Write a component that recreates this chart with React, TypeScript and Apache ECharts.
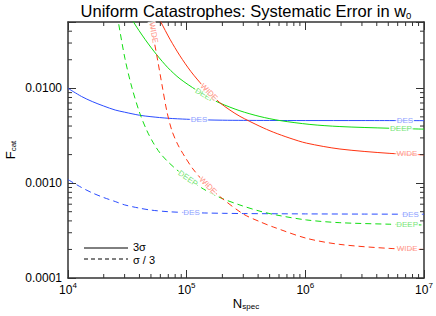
import React, { useEffect, useRef } from 'react';
import * as echarts from 'echarts';

const FONT = '"Liberation Sans", Arial, Helvetica, sans-serif';
const AXIS = '#333';
const BLUE = '#2a4cff';
const GREEN = '#11dd11';
const RED = '#ff3311';
const BLUE_L = '#6f88ff';
const GREEN_L = '#55dd55';
const RED_L = '#ff7766';

const xMin = 1e4;
const xMax = 1e7;
const yMin = 1e-4;
const yMax = 0.05;

const yTickLabels = ['0.0001', '0.0010', '0.0100'];

// DES, solid (3 sigma)
const desSolidN = [1e4, 1.3e4, 1.6e4, 2e4, 2.5e4, 3e4, 4e4, 5e4, 7e4, 1e5, 1.5e5, 2e5, 3e5, 5e5, 1e6, 3e6, 1e7];
const desSolidF = [0.0100, 0.0082, 0.00725, 0.0065, 0.0059, 0.0056, 0.0052, 0.00502, 0.00483, 0.00472, 0.00464, 0.00461, 0.00459, 0.00458, 0.00457, 0.00457, 0.00456];

// DEEP, solid
const deepSolidN = [2.964e4, 3.549e4, 4.453e4, 5.588e4, 6.957e4, 8.781e4, 1.2142e5, 1.5114e5, 1.908e5, 2.812e5, 4.145e5, 6.109e5, 1.0934e6, 1.956e6, 5.16e6, 1e7];
const deepSolidF = [0.0762, 0.0504, 0.0329, 0.0226, 0.01646, 0.0126, 0.00953, 0.00807, 0.00698, 0.00579, 0.00504, 0.00457, 0.00416, 0.00395, 0.00379, 0.00371];

// WIDE, solid
const wideSolidN = [5.102e4, 6.039e4, 7.234e4, 8.781e4, 1.0869e5, 1.3799e5, 1.6334e5, 1.908e5, 2.3166e5, 2.812e5, 4.145e5, 5.365e5, 7.419e5, 1.0256e6, 1.956e6, 5.16e6, 1e7];
const wideSolidF = [0.0762, 0.0504, 0.0329, 0.0220, 0.0150, 0.0105, 0.00844, 0.00703, 0.00589, 0.00506, 0.00397, 0.00345, 0.00298, 0.00264, 0.00229, 0.00206, 0.00199];

// DES, dashed (sigma / 3)
const desDashN = [1e4, 1.3e4, 1.6e4, 2e4, 2.5e4, 3e4, 4e4, 5e4, 7e4, 1e5, 1.5e5, 2e5, 3e5, 5e5, 1e6, 3e6, 1e7];
const desDashF = [0.00109, 0.00090, 0.00079, 0.000705, 0.00064, 0.00059, 0.000545, 0.00052, 0.0005, 0.00049, 0.000484, 0.000481, 0.000478, 0.000476, 0.000474, 0.000472, 0.00047];

// DEEP, dashed
const deepDashN = [2.513e4, 2.653e4, 3.022e4, 3.461e4, 4.043e4, 4.63e4, 5.232e4, 5.958e4, 6.957e4, 8.447e4, 1.0257e5, 1.3799e5, 1.908e5, 2.812e5, 4.145e5, 5.731e5, 1.0256e6, 1.956e6, 5.16e6, 1e7];
const deepDashF = [0.0762, 0.0504, 0.0205, 0.0101, 0.00538, 0.00356, 0.00266, 0.00208, 0.00168, 0.00135, 0.00112, 0.00087, 0.000705, 0.000588, 0.000506, 0.000461, 0.000409, 0.000383, 0.000369, 0.000362];

// WIDE, dashed
const wideDashN = [4.7e4, 4.955e4, 5.556e4, 6.194e4, 6.823e4, 7.518e4, 8.447e4, 9.676e4, 1.13e5, 1.4265e5, 1.908e5, 2.999e5, 4.145e5, 5.365e5, 1.0256e6, 1.956e6, 5.16e6, 1e7];
const wideDashF = [0.075, 0.0504, 0.0235, 0.0109, 0.00565, 0.00356, 0.00253, 0.00189, 0.00141, 0.001005, 0.00072, 0.000473, 0.000392, 0.000345, 0.000262, 0.000226, 0.000205, 0.0002];

// minor tick positions
const xMinorTicks = [2e4, 3e4, 4e4, 5e4, 6e4, 7e4, 8e4, 9e4, 2e5, 3e5, 4e5, 5e5, 6e5, 7e5, 8e5, 9e5, 2e6, 3e6, 4e6, 5e6, 6e6, 7e6, 8e6, 9e6];
const yMinorTicks = [2e-4, 3e-4, 4e-4, 5e-4, 6e-4, 7e-4, 8e-4, 9e-4, 2e-3, 3e-3, 4e-3, 5e-3, 6e-3, 7e-3, 8e-3, 9e-3, 2e-2, 3e-2, 4e-2];

// in-line curve labels
const labelText = ['DES', 'DEEP', 'WIDE', 'WIDE', 'DES', 'DEEP', 'WIDE', 'DES', 'DEEP', 'WIDE', 'DES', 'DEEP', 'WIDE'];
const labelN = [1.27e5, 1.43e5, 1.541e5, 5.252e4, 1.098e5, 1.0257e5, 1.511e5, 6.9e6, 6.39e6, 7.18e6, 7.7e6, 7.2e6, 7.2e6];
const labelF = [0.0047, 0.0084, 0.0091, 0.0386, 0.00049, 0.00112, 0.00094, 0.00457, 0.00378, 0.00203, 0.00047, 0.000366, 0.000203];
const labelRot = [0, -30, -45, -80, 0, -35, -45, 0, 0, 0, 0, 0, 0];
const labelColor = [BLUE_L, GREEN_L, RED_L, RED_L, BLUE_L, GREEN_L, RED_L, BLUE_L, GREEN_L, RED_L, BLUE_L, GREEN_L, RED_L];

const legendText = ['3σ', 'σ / 3'];

const zip = (n: number[], f: number[]) => n.map((v, i) => [v, f[i]]);

const MAJOR = 8;
const MINOR = 4;

function lineSeries(name: string, n: number[], f: number[], color: string, dashed: boolean) {
  return {
    type: 'line',
    name,
    data: zip(n, f),
    showSymbol: false,
    symbol: 'none',
    smooth: 0.3,
    clip: true,
    silent: true,
    z: 3,
    lineStyle: { color, width: 1, type: dashed ? [6, 4] : 'solid' },
  };
}

const expOf = (v: number) => Math.round(Math.log10(v));
const isDecade = (v: number) => Math.abs(Math.log10(v) - expOf(v)) < 0.01;

const subRich = {
  a: { fontSize: 13, lineHeight: 13, verticalAlign: 'top', padding: [0, 0, 2, 0], color: '#000', fontFamily: FONT, fontWeight: 'normal' },
  b: { fontSize: 8, lineHeight: 8, verticalAlign: 'bottom', color: '#000', fontFamily: FONT, fontWeight: 'normal' },
};

export default function App() {
  const ref = useRef<HTMLDivElement>(null);
  useEffect(() => {
    if (!ref.current) return;
    const chart = echarts.init(ref.current, undefined, { renderer: 'svg' });
    const axisCommon = {
      type: 'log',
      logBase: 10,
      splitLine: { show: false },
      axisLine: { show: true, onZero: false, lineStyle: { color: AXIS, width: 1.5 } },
      axisTick: { show: true, inside: true, length: MAJOR, lineStyle: { color: AXIS, width: 1 } },
    };
    const option: any = {
      animation: false,
      backgroundColor: '#fff',
      textStyle: { fontFamily: FONT },
      title: {
        text: '{a|Uniform Catastrophes: Systematic Error in w}{b|0}',
        left: 246,
        top: 2,
        padding: 0,
        textAlign: 'center',
        textStyle: {
          fontWeight: 'normal',
          rich: {
            a: { fontSize: 16.5, lineHeight: 18, verticalAlign: 'top', color: '#000', fontFamily: FONT, fontWeight: 'normal' },
            b: { fontSize: 9.5, lineHeight: 9, verticalAlign: 'bottom', color: '#000', fontFamily: FONT, fontWeight: 'normal' },
          },
        },
      },
      grid: { left: 68, right: 12, top: 22, bottom: 38, containLabel: false, outerBoundsMode: 'none' },
      xAxis: [
        {
          ...axisCommon,
          min: xMin,
          max: xMax,
          position: 'bottom',
          axisLabel: {
            margin: 3,
            formatter: (v: number) => (isDecade(v) ? `{a|10}{s|${expOf(v)}}` : ''),
            rich: {
              a: { fontSize: 12, lineHeight: 14, padding: [3, 0, 0, 0], color: '#000', fontFamily: FONT },
              s: { fontSize: 8, lineHeight: 8, verticalAlign: 'top', color: '#000', fontFamily: FONT },
            },
          },
          name: '{a|N}{b|spec}',
          nameLocation: 'middle',
          nameGap: 19,
          nameMoveOverlap: false,
          nameTextStyle: { rich: subRich },
        },
        {
          ...axisCommon,
          min: xMin,
          max: xMax,
          position: 'top',
          axisLabel: { show: false },
        },
      ],
      yAxis: [
        {
          ...axisCommon,
          min: yMin,
          max: yMax,
          position: 'left',
          axisLabel: {
            margin: 6,
            fontSize: 12,
            color: '#000',
            fontFamily: FONT,
            formatter: (v: number) => (isDecade(v) ? yTickLabels[expOf(v) + 4] ?? '' : ''),
          },
          name: '{a|F}{b|cat}',
          nameLocation: 'middle',
          nameGap: 51,
          nameRotate: 90,
          nameMoveOverlap: false,
          nameTextStyle: { rich: subRich },
        },
        {
          ...axisCommon,
          min: yMin,
          max: yMax,
          position: 'right',
          axisLabel: { show: false },
        },
      ],
      graphic: [
        { type: 'line', shape: { x1: 84, y1: 248, x2: 128, y2: 248 }, style: { stroke: '#000', lineWidth: 1 } },
        { type: 'line', shape: { x1: 84, y1: 259, x2: 128, y2: 259 }, style: { stroke: '#000', lineWidth: 1, lineDash: [4, 3] } },
        { type: 'text', x: 133, y: 247, style: { text: legendText[0], fontSize: 11, lineHeight: 10, fill: '#000', verticalAlign: 'middle', fontFamily: FONT } },
        { type: 'text', x: 133, y: 260, style: { text: legendText[1], fontSize: 11, lineHeight: 10, fill: '#000', verticalAlign: 'middle', fontFamily: FONT } },
      ],
      series: [
        lineSeries('DES 3σ', desSolidN, desSolidF, BLUE, false),
        lineSeries('DEEP 3σ', deepSolidN, deepSolidF, GREEN, false),
        lineSeries('WIDE 3σ', wideSolidN, wideSolidF, RED, false),
        lineSeries('DES σ/3', desDashN, desDashF, BLUE, true),
        lineSeries('DEEP σ/3', deepDashN, deepDashF, GREEN, true),
        lineSeries('WIDE σ/3', wideDashN, wideDashF, RED, true),
        {
          type: 'custom',
          silent: true,
          clip: false,
          z: 6,
          data: xMinorTicks.map((v) => [v, yMin]),
          renderItem: (params: any, api: any) => {
            const cs = params.coordSys;
            const x = api.coord([api.value(0), api.value(1)])[0];
            const bottom = cs.y + cs.height;
            const top = cs.y;
            return {
              type: 'group',
              children: [
                { type: 'line', shape: { x1: x, y1: bottom, x2: x, y2: bottom - MINOR }, style: { stroke: AXIS, lineWidth: 1 } },
                { type: 'line', shape: { x1: x, y1: top, x2: x, y2: top + MINOR }, style: { stroke: AXIS, lineWidth: 1 } },
              ],
            };
          },
        },
        {
          type: 'custom',
          silent: true,
          clip: false,
          z: 6,
          data: yMinorTicks.map((v) => [xMin, v]),
          renderItem: (params: any, api: any) => {
            const cs = params.coordSys;
            const y = api.coord([api.value(0), api.value(1)])[1];
            const left = cs.x;
            const right = cs.x + cs.width;
            return {
              type: 'group',
              children: [
                { type: 'line', shape: { x1: left, y1: y, x2: left + MINOR, y2: y }, style: { stroke: AXIS, lineWidth: 1 } },
                { type: 'line', shape: { x1: right, y1: y, x2: right - MINOR, y2: y }, style: { stroke: AXIS, lineWidth: 1 } },
              ],
            };
          },
        },
        {
          type: 'scatter',
          silent: true,
          z: 10,
          symbol: 'circle',
          symbolSize: 1,
          itemStyle: { color: 'rgba(0,0,0,0)' },
          label: {
            show: true,
            position: 'inside',
            fontSize: 8,
            fontFamily: FONT,
            backgroundColor: '#fff',
            padding: [0, 1],
          },
          data: labelText.map((t, i) => ({
            value: [labelN[i], labelF[i]],
            label: { formatter: t, rotate: labelRot[i], color: labelColor[i] },
          })),
        },
      ],
    };
    chart.setOption(option);
    return () => chart.dispose();
  }, []);
  return <div ref={ref} style={{ position: 'absolute', left: 0, top: 0, width: 436, height: 316 }} />;
}
